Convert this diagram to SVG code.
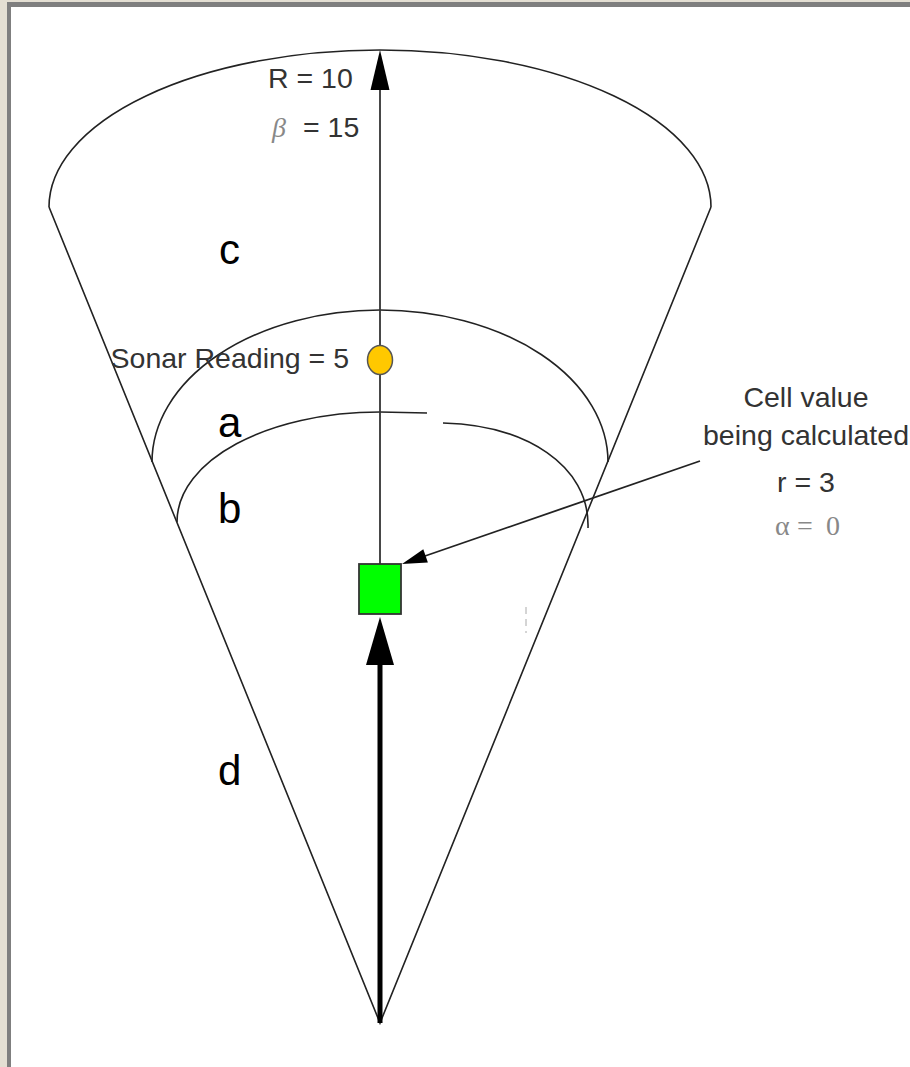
<svg xmlns="http://www.w3.org/2000/svg" width="910" height="1067" viewBox="0 0 910 1067">
<style>
.ln{fill:none;stroke:#222;stroke-width:1.6}
.lbl{font-family:"Liberation Sans",Arial,sans-serif;font-size:28.5px;fill:#333}
.big{font-family:"Liberation Sans",Arial,sans-serif;font-size:42px;fill:#000}
.gk{font-family:"Liberation Serif","Times New Roman",serif;fill:#888}
</style>
<rect x="0" y="0" width="910" height="1067" fill="#e4dfd3"/>
<rect x="7" y="2" width="903" height="1065" fill="#7f7f7f"/>
<rect x="11" y="7" width="899" height="1060" fill="#ffffff"/>
<g id="cone">
<path class="ln" d="M49,207 L380,1023 L711,207"/>
<path class="ln" d="M49,207 A331,157 0 0 1 711,207"/>
</g>
<g id="arc-sonar">
<path class="ln" d="M152,462 A228,152 0 0 1 608,462"/>
</g>
<g id="arc-cell">
<path class="ln" d="M177,522 C177,460 268,412 380,412 L427,413"/>
<path class="ln" d="M443,423 C525,425 590,465 588,528"/>
</g>
<g id="connectors">
<line x1="380" y1="88" x2="380" y2="565" stroke="#333" stroke-width="1.8"/>
<polygon points="380,50 370.5,90 389.5,90" fill="#000"/>
<line x1="380" y1="660" x2="380" y2="1023" stroke="#000" stroke-width="5"/>
<polygon points="380,617 366,665 394,665" fill="#000"/>
<line x1="700" y1="461" x2="425" y2="556" stroke="#222" stroke-width="1.8"/>
<polygon points="402,564 427.9,562.4 423.3,549.2" fill="#000"/>
<line x1="526" y1="607" x2="526" y2="633" stroke="#aaa" stroke-width="1" stroke-dasharray="7,5"/>
</g>
<g id="sonar-reading">
<ellipse cx="380" cy="360" rx="12.5" ry="14.5" fill="#ffc800" stroke="#555" stroke-width="1.5"/>
<text class="lbl" x="349" y="368" text-anchor="end">Sonar Reading = 5</text>
</g>
<g id="cell">
<rect x="359" y="564" width="42" height="50" fill="#00ff00" stroke="#333" stroke-width="1.8"/>
</g>
<g id="range-label">
<text class="lbl" x="268" y="88">R = 10</text>
<text x="272" y="137"><tspan class="gk" font-style="italic" font-size="28">β</tspan><tspan class="lbl" x="303" fill="#555">= 15</tspan></text>
</g>
<g id="cell-label">
<text class="lbl" x="806" y="407" text-anchor="middle">Cell value</text>
<text class="lbl" x="806" y="445" text-anchor="middle">being calculated</text>
<text class="lbl" x="806" y="492" text-anchor="middle">r = 3</text>
<text class="gk" y="535" font-size="28"><tspan x="775">α</tspan><tspan x="797">=</tspan><tspan x="826">0</tspan></text>
</g>
<g id="region-labels">
<text class="big" x="219" y="264">c</text>
<text class="big" x="218" y="437">a</text>
<text class="big" x="218" y="523">b</text>
<text class="big" x="218" y="785">d</text>
</g>
</svg>
